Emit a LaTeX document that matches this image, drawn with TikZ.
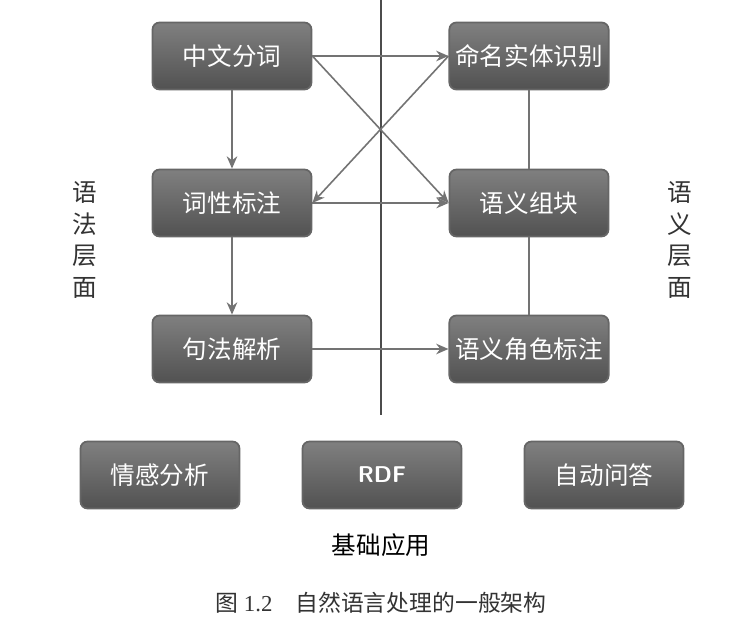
\documentclass[tikz,border=0pt]{standalone}
\usepackage{fontspec}
\setmainfont{Liberation Serif}
\newfontfamily\cjk{Noto Sans CJK SC}
\usetikzlibrary{arrows.meta}
\begin{document}
\begin{tikzpicture}[x=0.02cm,y=-0.02cm,
  box/.style={draw=black!60,line width=1pt,rounded corners=4pt,top color=black!50,bottom color=black!68,
    minimum width=3.18cm,minimum height=1.34cm,text=white,font=\cjk\fontsize{14}{16}\selectfont},
  arr/.style={draw=black!55,line width=0.9pt,-{Stealth[length=7pt,width=6pt]}},
  ln/.style={draw=black!55,line width=0.9pt},
  lab/.style={font=\cjk\fontsize{14}{18}\selectfont,text=black!80,align=center}]
\useasboundingbox (0,0) rectangle (745,628);
\fill[white] (0,0) rectangle (745,628);
\draw[black!70,line width=1pt] (381,0) -- (381,415);
\node[box] (a) at (232,56) {中文分词};
\node[box] (b) at (529,56) {命名实体识别};
\node[box] (c) at (232,203) {词性标注};
\node[box] (d) at (529,203) {语义组块};
\node[box] (e) at (232,349) {句法解析};
\node[box] (f) at (529,349) {语义角色标注};
\node[box] (g) at (160,475) {情感分析};
\node[box,font=\sffamily\bfseries\fontsize{13}{15}\selectfont] (h) at (382,475) {RDF};
\node[box] (i) at (604,475) {自动问答};
\draw[arr] (a) -- (b);
\draw[arr] (a.east) -- (d.west);
\draw[arr] (b.west) -- (c.east);
\draw[arr] (c) -- (d);
\draw[arr] (e) -- (f);
\draw[arr] (a) -- (c);
\draw[arr] (c) -- (e);
\draw[ln] (b) -- (d);
\draw[ln] (d) -- (f);
\node[lab] (l1) at (85,240) {语\\法\\层\\面};
\node[lab] (l2) at (680,240) {语\\义\\层\\面};
\node[lab,text=black] (base) at (381,545) {基础应用};
\node[font=\fontsize{13}{15}\selectfont,text=black!80] (cap) at (381,603) {{\cjk 图} 1.2\quad {\cjk 自然语言处理的一般架构}};
\end{tikzpicture}
\end{document}
